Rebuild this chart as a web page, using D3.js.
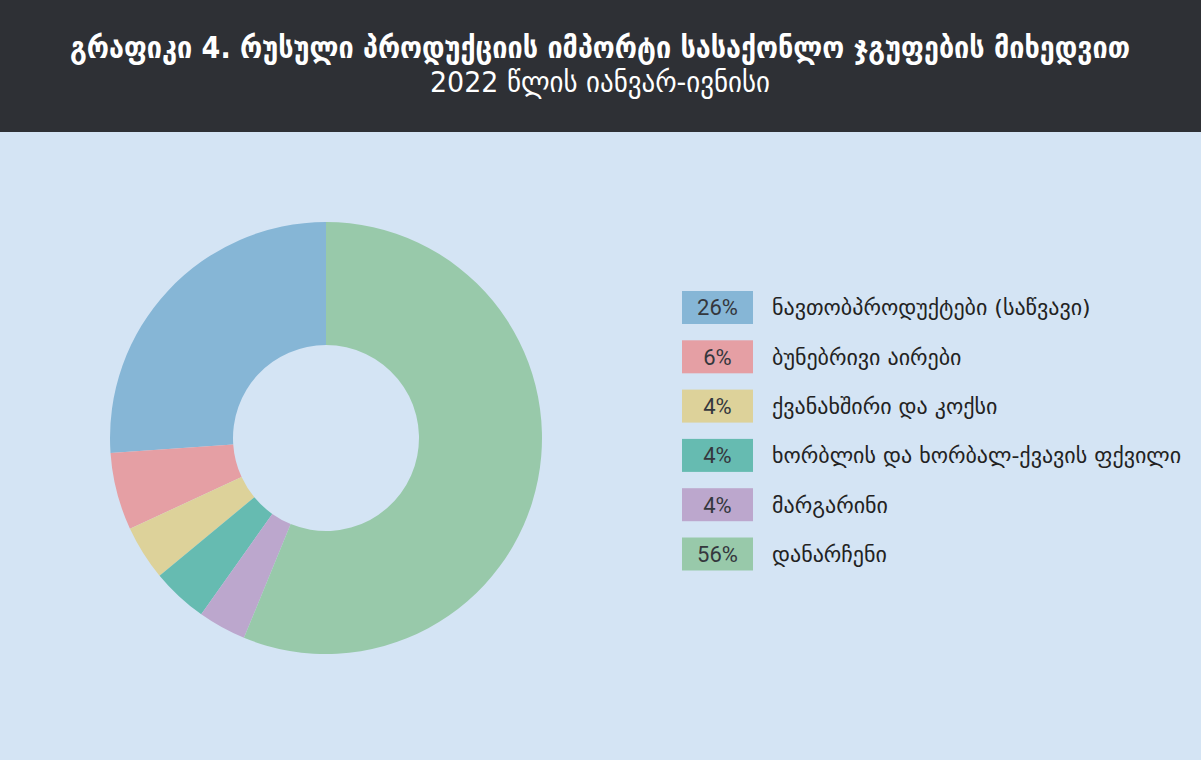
<!DOCTYPE html>
<html>
<head>
<meta charset="utf-8">
<script src="https://cdn.jsdelivr.net/npm/d3@7"></script>
<style>
  html, body { margin: 0; padding: 0; background: #d4e4f4; }
  svg { display: block; }
</style>
</head>
<body>
<svg id="chart" width="1201" height="760"></svg>
<script>
const categories = [
  "ნავთობპროდუქტები (საწვავი)",
  "ბუნებრივი აირები",
  "ქვანახშირი და კოქსი",
  "ხორბლის და ხორბალ-ქვავის ფქვილი",
  "მარგარინი",
  "დანარჩენი"
];
const values = [26.1, 5.8, 4.1, 4.2, 3.6, 56.2];
const valueLabels = ["26%", "6%", "4%", "4%", "4%", "56%"];
const colors = ["#86b6d6", "#e59fa4", "#ddd29a", "#66bbb1", "#bca7cd", "#98c9aa"];
const titleText = "გრაფიკი 4. რუსული პროდუქციის იმპორტი სასაქონლო ჯგუფების მიხედვით";
const subtitleText = "2022 წლის იანვარ-ივნისი";

const W = 1201, H = 760;
const svg = d3.select("#chart");

svg.append("rect").attr("x", 0).attr("y", 0).attr("width", W).attr("height", H).attr("fill", "#d4e4f4");
svg.append("rect").attr("x", 0).attr("y", 0).attr("width", W).attr("height", 132).attr("fill", "#2e3035");

svg.append("text")
  .attr("x", 600).attr("y", 58)
  .attr("text-anchor", "middle")
  .attr("fill", "#ffffff")
  .attr("font-family", "'DejaVu Sans Condensed', 'DejaVu Sans', sans-serif")
  .attr("font-weight", "bold")
  .attr("font-size", 30)
  .attr("textLength", 1060)
  .attr("lengthAdjust", "spacingAndGlyphs")
  .text(titleText);

svg.append("text")
  .attr("x", 600).attr("y", 92)
  .attr("text-anchor", "middle")
  .attr("fill", "#ffffff")
  .attr("font-family", "'DejaVu Sans Condensed', 'DejaVu Sans', sans-serif")
  .attr("font-size", 29)
  .attr("textLength", 340)
  .attr("lengthAdjust", "spacingAndGlyphs")
  .text(subtitleText);

// Donut: drawn counter-clockwise from top, in legend order
const cx = 326, cy = 438, rOuter = 216, rInner = 93;
const idx = d3.range(categories.length);
const pie = d3.pie()
  .value(i => values[i])
  .sort(null)
  .startAngle(0)
  .endAngle(-2 * Math.PI);
const arc = d3.arc().innerRadius(rInner).outerRadius(rOuter);

const g = svg.append("g").attr("transform", `translate(${cx},${cy})`);
g.selectAll("path")
  .data(pie(idx))
  .join("path")
  .attr("d", arc)
  .attr("fill", d => colors[d.data]);

// Legend
const step = 49.3, boxH = 33;
const y = d3.scaleBand().domain(idx)
  .range([291, 291 + step * 5 + boxH])
  .paddingInner(1 - boxH / step).paddingOuter(0);
const lx = 682, boxW = 71;
const lg = svg.append("g");
const items = lg.selectAll("g.item").data(idx).join("g").attr("class", "item");
items.append("rect")
  .attr("x", lx).attr("y", i => y(i))
  .attr("width", boxW).attr("height", y.bandwidth())
  .attr("fill", i => colors[i]);
items.append("text")
  .attr("x", lx + boxW / 2).attr("y", i => y(i) + y.bandwidth() / 2)
  .attr("dy", "0.36em")
  .attr("text-anchor", "middle")
  .attr("fill", "#34373d")
  .attr("font-family", "Roboto, 'Noto Sans', sans-serif")
  .attr("font-size", 22)
  .text(i => valueLabels[i]);
items.append("text")
  .attr("x", 772).attr("y", i => y(i) + y.bandwidth() / 2)
  .attr("dy", "0.36em")
  .attr("fill", "#222222")
  .attr("font-family", "'DejaVu Sans', sans-serif")
  .attr("font-size", 22)
  .text(i => categories[i]);
</script>
</body>
</html>
